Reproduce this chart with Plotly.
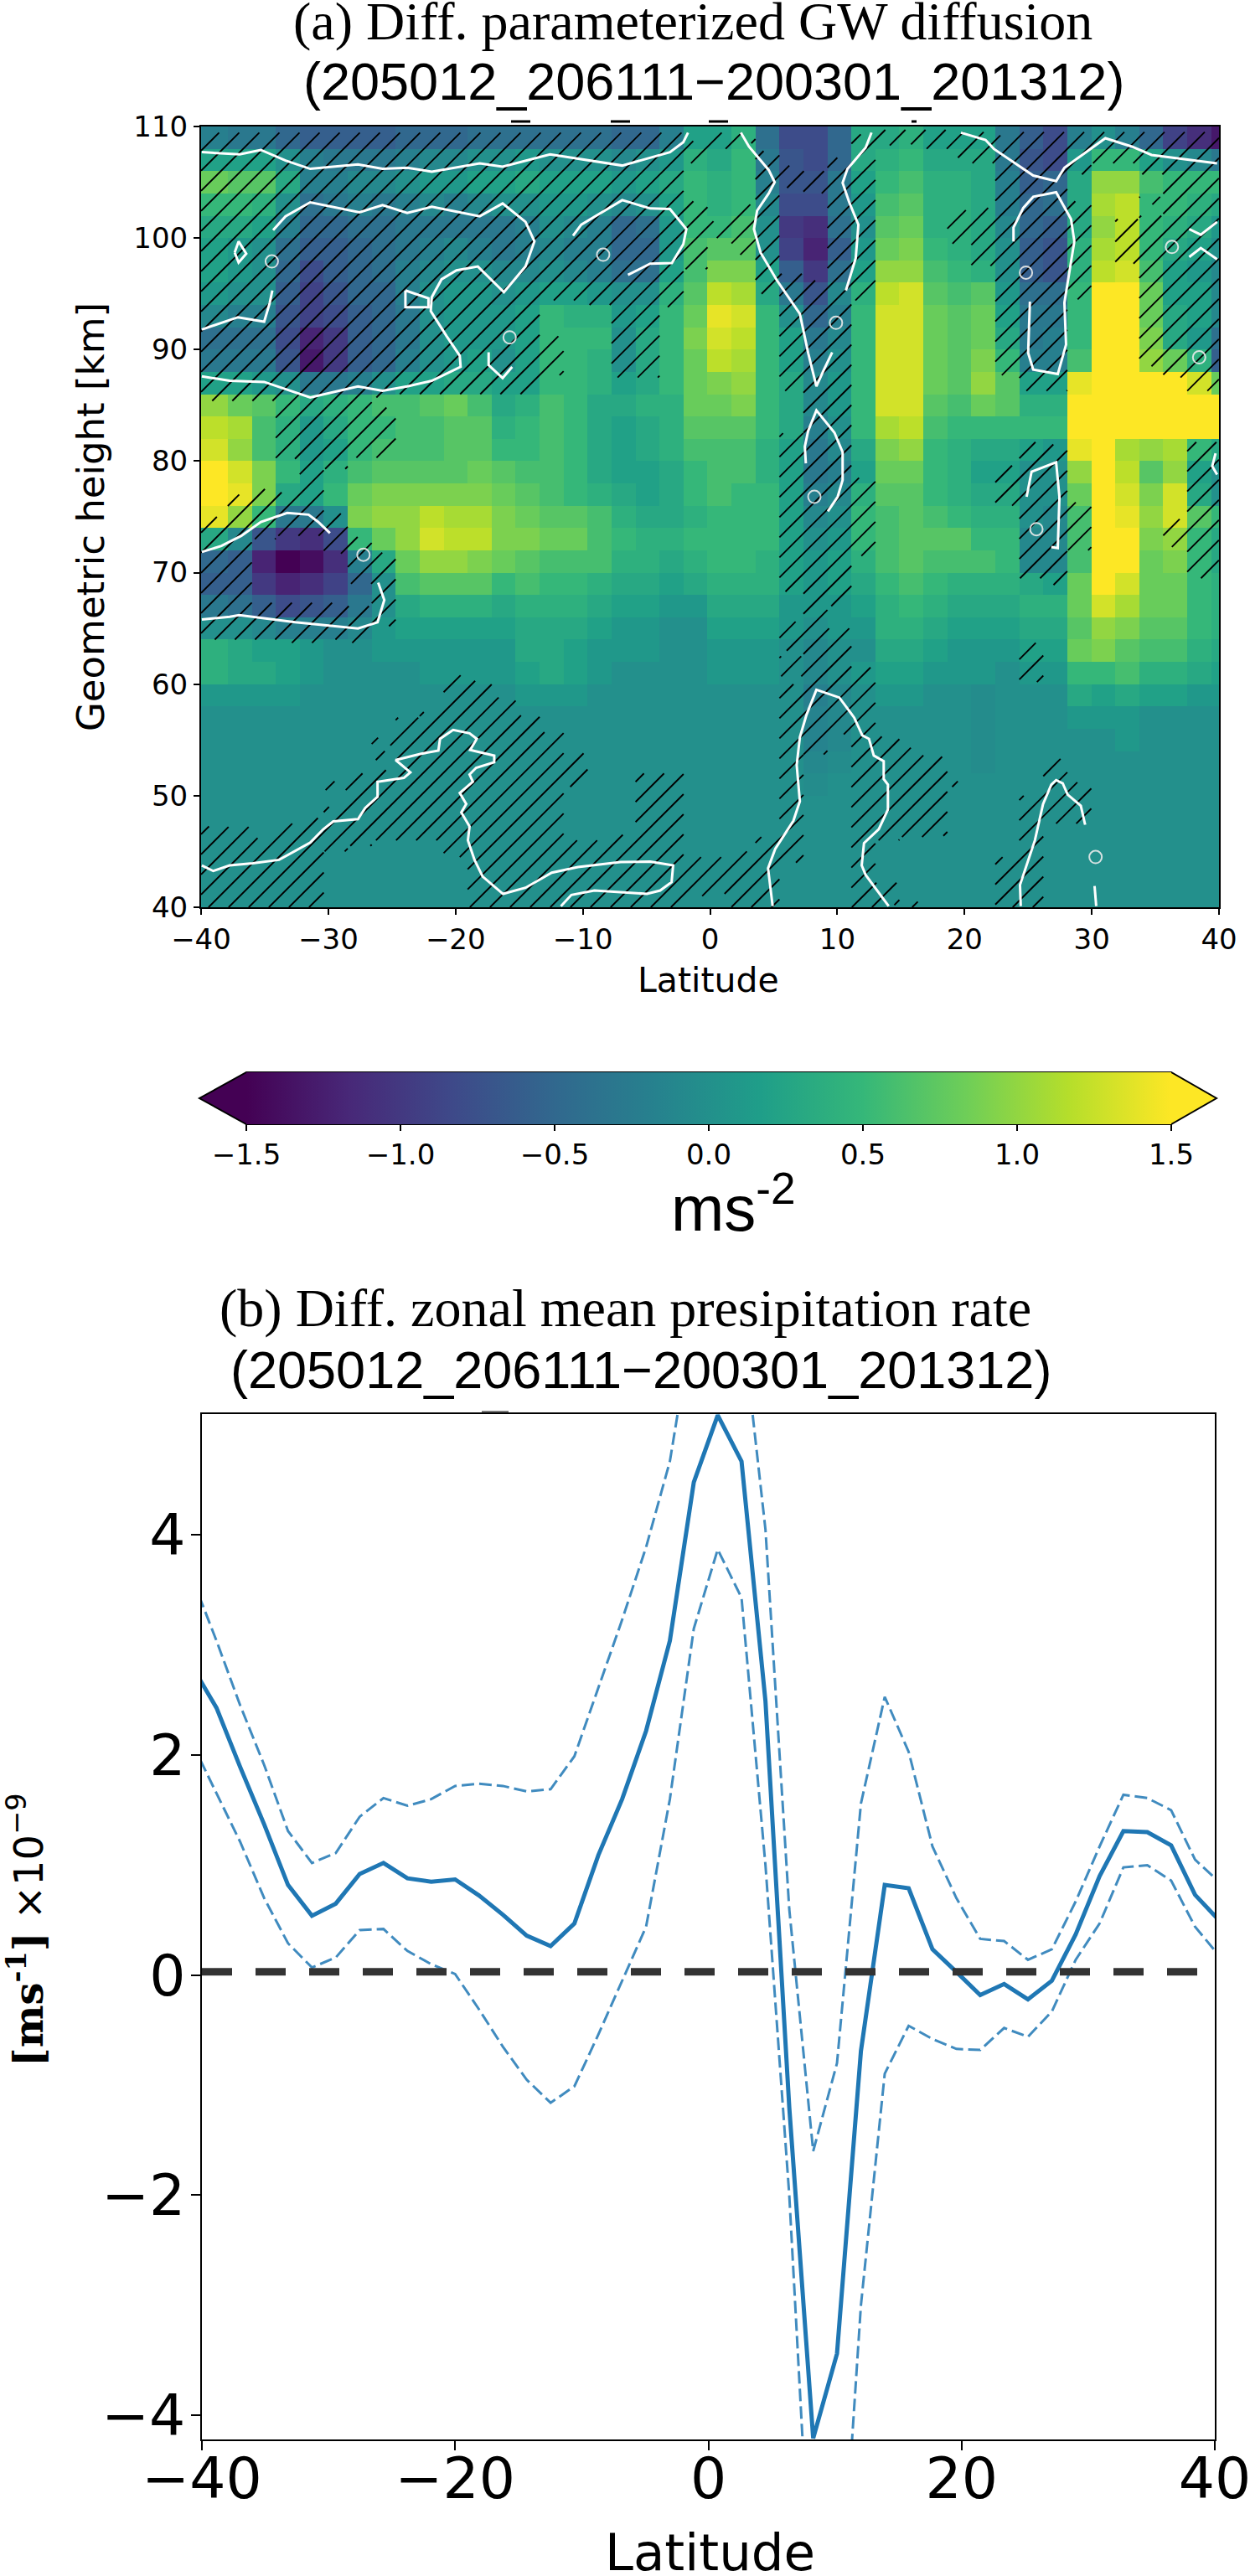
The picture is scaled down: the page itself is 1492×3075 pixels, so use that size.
import plotly.graph_objects as go

W, H = 1492, 3075

# ---------- panel (a): zonal wind tendency, tenths of m s-2 ----------
LAT_EDGES = [-40, -37.9, -36.015, -34.13, -32.245, -30.36, -28.475, -26.59, -24.705, -22.82, -20.935,
             -19.05, -17.165, -15.28, -13.395, -11.51, -9.625, -7.74, -5.855, -3.97, -2.085, -0.2,
             1.685, 3.57, 5.455, 7.34, 9.225, 11.11, 12.995, 14.88, 16.765, 18.65, 20.535, 22.42,
             24.305, 26.19, 28.075, 29.96, 31.845, 33.73, 35.615, 37.5, 39.385, 40]
HEIGHT_EDGES = list(range(40, 112, 2))

# each column: rows centred at 59, 61, ... 109 km
Z_UPPER = [
    [1,4,4,0,-3,-6,-5,3,14,16,16,13,12,10,2,-3,-4,-1,1,2,2,3,5,8,2,-2],
    [1,3,3,0,-4,-6,-6,-1,10,14,13,10,11,8,2,-3,-4,-2,0,1,1,3,5,7,2,-3],
    [1,3,2,-1,-6,-10,-12,-7,5,9,9,6,6,7,1,-3,-4,-2,0,0,0,2,4,7,2,-3],
    [1,2,2,-2,-8,-12,-15,-10,-3,3,5,4,4,5,0,-7,-8,-7,-6,-5,-4,-2,0,3,0,-5],
    [0,1,1,-2,-7,-11,-14,-11,-3,2,2,1,1,3,-3,-13,-12,-9,-9,-8,-6,-5,-4,-2,-2,-6],
    [0,0,0,-2,-6,-9,-11,-8,0,5,4,2,3,4,-3,-10,-10,-8,-7,-6,-6,-5,-3,-2,-3,-6],
    [0,0,0,-1,-3,-5,-2,5,9,8,6,5,5,5,-2,-6,-6,-6,-5,-5,-5,-4,-2,-1,-3,-6],
    [0,0,1,1,0,0,3,8,10,9,7,6,5,6,0,-5,-5,-5,-5,-4,-4,-4,-3,-1,-3,-6],
    [0,0,1,2,3,6,8,10,10,9,7,6,6,6,2,-2,-3,-3,-2,-2,-3,-3,-2,0,-2,-5],
    [0,1,1,2,4,7,10,13,12,9,7,6,6,7,2,0,0,0,0,-1,-2,-3,-1,1,-1,-5],
    [0,1,1,2,4,7,10,12,11,9,7,7,7,8,3,1,1,1,1,0,-1,-3,-2,1,-1,-5],
    [0,1,1,2,4,7,9,12,11,9,8,7,7,6,3,2,1,1,1,0,-2,-3,-1,2,0,-4],
    [0,1,1,2,3,5,8,9,9,8,7,5,4,3,2,0,1,1,0,-1,-3,-3,0,2,0,-4],
    [1,2,3,3,4,6,7,9,8,7,6,5,5,4,2,2,2,2,1,-1,-2,-2,0,3,1,-4],
    [1,3,3,3,4,5,6,8,7,6,6,6,6,6,5,5,5,5,2,0,-1,0,1,2,0,-4],
    [1,2,2,3,4,5,6,8,7,5,5,5,5,5,5,5,5,4,2,-1,-2,-1,1,2,0,-4],
    [0,1,1,2,3,4,6,6,6,4,3,3,3,3,4,4,5,4,1,-2,-2,-2,0,2,0,-4],
    [0,0,1,1,2,3,4,5,4,3,2,2,2,3,2,0,0,1,0,-4,-5,-5,-1,1,-1,-5],
    [0,0,1,1,2,3,4,4,3,2,2,3,3,4,3,3,3,2,0,-4,-5,-4,0,2,0,-5],
    [0,0,0,0,1,2,3,4,3,3,3,4,4,4,5,5,5,5,4,2,1,1,2,3,1,-2],
    [0,0,0,0,1,3,4,5,4,5,5,6,7,8,8,8,9,8,7,6,6,5,5,5,4,2],
    [0,1,1,2,3,4,5,5,5,6,6,6,7,8,9,12,13,14,12,9,7,5,4,4,3,2],
    [0,1,1,2,3,4,5,5,5,5,6,6,7,9,10,11,12,13,11,9,7,6,5,5,5,4],
    [0,1,1,2,3,4,4,5,5,5,4,4,5,5,5,5,5,5,3,2,0,0,-1,-2,-3,-4],
    [0,0,0,1,1,2,2,2,2,2,2,2,3,3,3,2,2,0,-3,-6,-9,-10,-8,-7,-7,-8],
    [-2,-1,-1,0,1,1,1,0,-1,-2,-3,-3,-2,-1,-1,-2,-3,-5,-7,-10,-12,-11,-8,-7,-8,-8],
    [-1,0,0,1,1,2,2,1,0,-1,-2,-1,0,1,1,0,-1,-2,-1,-4,-6,-4,-3,-3,-5,-5],
    [0,1,0,1,2,3,4,5,5,4,2,3,5,5,5,5,5,5,4,2,1,0,1,2,3,3],
    [1,2,3,4,4,5,6,6,6,7,8,9,11,13,13,13,13,13,12,10,8,7,6,5,4,3],
    [1,2,3,4,5,6,7,7,7,7,8,10,12,13,13,13,13,13,13,10,9,8,7,6,5,4],
    [0,1,2,3,4,5,6,7,6,5,5,5,6,7,8,8,8,8,7,6,5,4,4,4,3,2],
    [0,1,1,2,3,4,6,7,5,4,4,4,5,6,7,7,7,7,6,5,4,4,4,4,3,2],
    [-0.5,1,1,2,3,4,6,5,4,3,2,3,5,8,10,9,8,8,7,4,3,3,3,3,3,2],
    [0,0,1,2,3,4,5,5,4,3,2,3,5,7,7,5,3,2,1,0,0,-1,-2,-2,-3,-3],
    [0,1,2,3,4,3,-1,-1,0,0,0,2,5,4,2,-2,-3,-3,-4,-6,-6,-5,-5,-6,-7,-6],
    [0,1,2,3,4,2,-1,-1,-1,0,0,1,5,4,2,-2,-2,-3,-4,-7,-7,-6,-4,-5,-8,-8],
    [3,5,8,7,8,8,6,6,6,8,10,14,15,15,14,6,5,5,5,4,4,3,3,3,1,-2],
    [2,5,9,10,13,15,15,15,15,15,15,15,15,15,15,15,15,15,15,12,11,10,11,10,5,0],
    [3,6,7,9,11,13,15,15,14,13,12,11,15,15,15,15,15,15,15,13,12,12,12,10,5,-2],
    [2,4,6,7,8,8,8,9,10,9,7,10,15,15,15,10,9,8,8,6,5,5,5,6,2,-5],
    [2,4,6,7,8,8,9,10,13,13,10,11,15,15,15,8,3,3,2,2,3,4,5,5,0,-9],
    [1,3,4,5,5,5,5,5,7,3,2,5,15,15,13,4,1,2,2,1,2,3,4,5,-1,-11],
    [1,2,3,4,4,4,3,3,5,0,0,3,15,15,8,-6,-4,-1,-1,-1,0,1,3,5,-3,-13],
]
# rows centred at 41 ... 57 km; columns not listed are 0
Z_LOWER = {
    25: [0,0,0,0,0,-0.5,-1,-1.5,-1.5],
    26: [0,0,0,0,0,0,-0.5,-1,-1],
    32: [0,0,0,0,0,0,-0.5,-0.5,-0.5],
    36: [0,0,0,0,0,0,0,0,1],
    37: [0,0,0,0,0,0,0,0,1],
    38: [0,0,0,0,0,0,0,1,1],
}
T = 109.45
# significance mask: hatched height intervals of each column
HATCH = [
    [(40,47.25),(64,75),(85.4,T)],
    [(40,47.2),(64,77),(85.4,T)],
    [(40,46.2),(64,67.3),(73,77.5),(85.4,T)],
    [(40,47.5),(63.7,67.3),(73.3,77.2),(80.2,T)],
    [(40,48),(63.7,67.3),(73.3,T)],
    [(45,49),(50.5,51.3),(64,67.3),(71.7,75.3),(79.3,T)],
    [(45.5,52),(63.7,67),(69,73.2),(80.3,T)],
    [(46,52.3),(53.2,54),(54.5,55.2),(65.2,71.8),(80.3,84.8),(85.7,T)],
    [(46,57),(86,T)],
    [(46,57.5),(86,T)],
    [(44.5,60.8),(86,T)],
    [(40,60.3),(86,T)],
    [(40,58.8),(86,T)],
    [(40,57.2),(86,T)],
    [(40,55.7),(87.7,91.2),(94.4,T)],
    [(40,46),(50.8,53.8),(94.4,T)],
    [(40,46),(94,T)],
    [(40,46.5),(87.5,T)],
    [(40,52),(87.5,T)],
    [(40,52),(93.8,T)],
    [(41,44.5),(97.2,103.3),(106.7,108.7)],
    [(41.2,44.5),(100,101.5),(108,T)],
    [(40,45),(98.5,103),(108.5,T)],
    [(40,46.3),(95,107.8)],
    [(44,60),(60.7,62.5),(63,65.6),(68.3,82.5),(86.3,96.8),(104.5,106.5)],
    [(53.7,96.2),(104,106)],
    [(55.5,65),(67,107.2)],
    [(40,61.5),(71.5,78.5),(94.4,109.3)],
    [(40.2,42.2),(46,55.3),(108.3,109.7)],
    [(40,40.5),(46.3,54.3),(108.4,109.7)],
    [(46.4,53.5),(108,109.7)],
    [(50.8,51.3),(99.5,102.5),(107.2,109.5)],
    [(97.5,102.7),(106.7,109.5)],
    [(40,44.5),(76,79.6),(87.7,109.2)],
    [(40,50),(60.2,63.7),(69.5,81.7),(86.3,109.5)],
    [(47.5,53.3),(68.9,81.5),(86.3,109.5)],
    [(47.5,51.2),(72,76.3),(94.5,103.3),(105.7,109.5)],
    [(106.7,109.5)],
    [(97.7,101.7),(106.7,109.5)],
    [(88.5,102),(103,103.7),(105.7,109.5)],
    [(72.3,74.8),(87.5,109.5)],
    [(69.5,81.7),(86.3,109.5)],
    [(69.5,81.7),(86.3,109.5)],
]

# white contours: (lat list, height list)
CONTOURS = [
    ([-39.94,-36.97,-35.3,-33.36,-31.42,-27.67,-25.74,-23.8,-21.87,-18.1,-16.3,-12.57,-6.9,-3.15,-2.1,-1.73],
     [107.7,107.5,107.9,106.95,106.2,106.6,106.2,106.3,105.95,106.7,106.4,107.5,106.5,107.7,108.6,109.45]),
    ([-34.34,-33.36,-31.42,-27.55,-25.74,-23.8,-21.87,-18.1,-16.3,-14.5,-13.8,-14.5,-16.2,-18.25,-19.93,-21.1,-21.87,-21.95,-20.7,-19.67,-19.6,-21.87,-23.8,-25.74,-27.67,-31.42,-35.04,-37.75,-39.94],
     [100.7,101.95,103.2,102.3,102.95,102.25,102.8,101.95,103.1,101.45,99.7,97.45,95.15,97.45,97.1,96.3,94.7,93.45,91.2,89.45,88.45,87.2,86.7,86.3,86.7,85.7,87.1,87.2,87.6]),
    ([-39.94,-37.1,-35.04,-34.6,-34.4], [91.8,92.9,92.5,94.2,95.3]),
    ([-37.36,-37.05,-36.45,-37.05,-37.36], [98.7,99.7,98.6,97.8,98.7]),
    ([-23.94,-22.13,-22.13,-23.94,-23.94], [95.3,94.6,93.8,93.8,95.3]),
    ([-17.4,-17.4,-16.3,-15.55], [89.75,88.6,87.45,88.45]),
    ([-10.77,-10.12,-6.9,-4.7,-3.15,-1.86,-2.1,-3.0,-4.7,-6.45], [100.2,101.2,103.4,102.65,102.6,100.8,99.45,97.75,97.7,96.7]),
    ([2.42,3.06,4.61,5.08,4.61,3.7,3.45,3.97,5.26,7.06,7.71,8.36,8.87,9.6],
     [109.45,108.2,106.1,105,104,102.45,100.8,98.7,96.2,93.2,89.7,86.7,88,89.75]),
    ([12.69,12.23,10.8,10.42,10.94,11.66,11.45,10.68], [109.45,108.1,106.2,104.95,103.2,101.2,98.2,95.3]),
    ([7.53,7.45,7.71,8.36,9.78,10.42,10.42,10.03,9.26], [79.8,81.3,82.7,84.55,82.55,80.8,78.3,76.8,75.5]),
    ([19.72,21.65,22.3,25.4,27.2,27.85,31.07,33.15,34.7,37.0,39.85], [109.45,108.8,108,105.6,105.1,106.3,108.95,108.2,107.45,107.1,106.7]),
    ([23.85,23.85,24.62,25.4,27.2,28.37,28.63,28.24,27.85,27.98,27.33,25.4,25.0,25.14],
     [99.7,100.95,102.7,103.7,104.1,101.7,99.7,97,94.2,90.45,87.8,88.2,89.7,94.3]),
    ([37.66,38.57,39.85], [100.8,100.3,101.45]),
    ([37.66,38.57,39.85], [98.3,99.1,98.1]),
    ([24.88,25.27,27.2,27.46,27.33,26.82], [76.8,79.05,79.9,76.8,72.2,72.3]),
    ([39.73,39.47,39.85], [80.7,79.55,78.8]),
    ([-39.94,-38.4,-36.84,-35.3,-33.23,-31.55,-30.8,-29.87], [71.85,72.4,73.3,74.55,75.35,75.2,74.55,73.55]),
    ([-26.08,-25.6,-26.13,-27.67,-32.6,-37,-37.75,-39.94], [69.1,67.55,65.55,65,65.55,66.2,66.05,65.8]),
    ([-39.94,-39.04,-37.75,-35.94,-33.87,-32.58,-31.42,-30.39,-29.61,-27.67,-27.1,-26.13,-26.13,-24.06,-23.55,-24.71,-22.77,-21.35,-21.22,-20.19,-18.9,-18.33,-18.85,-16.96,-16.96,-18.38,-18.9,-18.64,-19.67,-19.16,-19.55,-18.9,-19.03,-18.51,-17.87,-16.27,-14.5,-12.44,-10.38,-7.02,-4.7,-2.9,-3.02,-3.92,-4.96,-9.09,-10.9,-11.72],
     [43.75,43.25,43.75,43.95,44.25,45.1,45.8,47,47.7,47.9,48.9,49.9,51.25,51.6,52.1,53.2,53.75,54.05,55.1,55.9,55.6,55.1,54.1,53.6,53,52.5,51.9,51.25,50.25,49.25,48.5,47.25,46,44.25,42.75,41.2,41.75,43.1,43.6,44.05,44.1,43.75,42.25,41.5,41.2,41.5,41.1,40.1]),
    ([4.92,4.56,5.13,6.55,7.06,6.81,7.06,7.58,8.36,10.16,11.33,11.97,12.49,12.87,13.65,13.65,13.98,13.98,13.26,12.1,11.92,12.23,14.04],
     [40.1,43.5,45.25,47.75,49.5,52.75,55.25,57.25,59.5,58.8,57,55.4,55.1,53.6,53.1,51.5,51,48.75,47,45.75,43.75,42.9,40.1]),
    ([24.42,24.36,25.53,26.17,26.82,27.2,27.72,28.11,29.14,29.48], [40.1,42,46,49.25,51,51.4,51.1,50.1,49.1,47.4]),
    ([30.22,30.35], [41.9,40.1]),
]
RING_LAT = [-34.44,-15.75,-8.4,-27.24,9.9,24.83,36.3,38.44,8.2,25.65,30.3]
RING_H = [97.9,91.1,98.5,71.6,92.4,96.9,99.2,89.3,76.8,73.9,44.5]

CB_TICKS = [-1.5,-1.0,-0.5,0.0,0.5,1.0,1.5]

# ---------- panel (b): precipitation difference ----------
PR_LAT = [-40.74,-38.85,-36.97,-35.08,-33.2,-31.31,-29.43,-27.54,-25.66,-23.77,-21.89,-20.0,-18.12,-16.23,-14.35,-12.46,-10.58,-8.69,-6.81,-4.92,-3.04,-1.15,
          0.74,2.62,4.51,6.39,8.28,10.16,12.05,13.93,15.82,17.7,19.59,21.47,23.36,25.24,27.13,29.01,30.9,32.78,34.67,36.55,38.44,40.32]
PR_MEAN = [2.8,2.43,1.89,1.37,0.82,0.54,0.65,0.92,1.02,0.88,0.85,0.87,0.725,0.55,0.36,0.265,0.47,1.09,1.6,2.22,3.04,4.48,
           5.09,4.67,2.49,-1.2,-4.21,-3.44,-0.69,0.82,0.79,0.235,0.03,-0.18,-0.08,-0.22,-0.05,0.37,0.9,1.31,1.3,1.18,0.73,0.5]
PR_UPPER = [3.6,3.04,2.45,1.91,1.31,1.02,1.11,1.44,1.61,1.54,1.6,1.72,1.74,1.72,1.67,1.69,1.99,2.61,3.23,3.89,4.67,6.0,
            6.5,6.0,4.05,0.6,-1.6,-0.8,1.56,2.53,2.03,1.17,0.7,0.33,0.31,0.14,0.235,0.67,1.17,1.64,1.61,1.5,1.05,0.85]
PR_LOWER = [2.1,1.65,1.21,0.7,0.29,0.07,0.16,0.41,0.42,0.22,0.1,0.01,-0.31,-0.65,-0.95,-1.16,-1.01,-0.54,-0.05,0.44,1.6,3.15,
            3.87,3.43,1.0,-2.0,-6.0,-6.3,-3.0,-0.895,-0.46,-0.58,-0.67,-0.68,-0.48,-0.56,-0.33,0.14,0.47,0.98,1.0,0.86,0.44,0.18]
ZERO_LAT = [-40, 40]
ZERO_VAL = [0.03, 0.03]


def fx(px):
    return px / W


def fy(py):
    return 1 - py / H


# assemble heatmap rows, bottom to top
columns = [Z_LOWER.get(i, [0] * 9) + col for i, col in enumerate(Z_UPPER)]
z_rows = [[columns[c][r] / 10 for c in range(len(columns))] for r in range(35)]

# hatch lines: 45 degree in pixels, clipped to the mask intervals
SLOPE = 1.141
hatch_x, hatch_y = [], []
for k in range(-42, 52):
    c = -72.89 + 1.58 * k
    segs = []
    for col, intervals in enumerate(HATCH):
        a, b = LAT_EDGES[col], LAT_EDGES[col + 1]
        for h0, h1 in intervals:
            lo = max(a, c + h0 / SLOPE)
            hi = min(b, c + h1 / SLOPE)
            if hi > lo:
                segs.append((lo, hi))
    segs.sort()
    merged = []
    for s in segs:
        if merged and s[0] - merged[-1][1] < 1e-6:
            merged[-1] = (merged[-1][0], s[1])
        else:
            merged.append(s)
    for lo, hi in merged:
        hatch_x += [lo, hi, None]
        hatch_y += [SLOPE * (lo - c), SLOPE * (hi - c), None]

fig = go.Figure()
fig.add_trace(go.Heatmap(x=LAT_EDGES, y=HEIGHT_EDGES, z=z_rows, coloraxis="coloraxis",
                         xaxis="x", yaxis="y", hoverinfo="skip"))
fig.add_trace(go.Scatter(x=hatch_x, y=hatch_y, mode="lines", line=dict(color="black", width=1.9),
                         xaxis="x", yaxis="y", hoverinfo="skip"))
for lats, hs in CONTOURS:
    fig.add_trace(go.Scatter(x=lats, y=hs, mode="lines", line=dict(color="white", width=3),
                             xaxis="x", yaxis="y", hoverinfo="skip"))
fig.add_trace(go.Scatter(x=RING_LAT, y=RING_H, mode="markers",
                         marker=dict(symbol="circle-open", size=15, color="rgba(235,235,235,0.9)", line=dict(width=2)),
                         xaxis="x", yaxis="y", hoverinfo="skip"))

fig.add_trace(go.Scatter(x=PR_LAT, y=PR_UPPER, mode="lines",
                         line=dict(color="rgba(31,119,180,0.85)", width=3, dash="15px,6px"), xaxis="x2", yaxis="y2"))
fig.add_trace(go.Scatter(x=PR_LAT, y=PR_LOWER, mode="lines",
                         line=dict(color="rgba(31,119,180,0.85)", width=3, dash="15px,6px"), xaxis="x2", yaxis="y2"))
fig.add_trace(go.Scatter(x=PR_LAT, y=PR_MEAN, mode="lines", line=dict(color="#1f77b4", width=5), xaxis="x2", yaxis="y2"))
fig.add_trace(go.Scatter(x=ZERO_LAT, y=ZERO_VAL, mode="lines",
                         line=dict(color="#333333", width=9, dash="36px,28px"), xaxis="x2", yaxis="y2"))

AX_A = dict(showline=True, mirror=True, linecolor="black", linewidth=2, ticks="outside", ticklen=7, tickwidth=2,
            tickcolor="black", showgrid=False, zeroline=False, tickfont=dict(family="DejaVu Sans", size=34, color="black"))
AX_B = dict(AX_A, ticklen=11, tickfont=dict(family="DejaVu Sans", size=68, color="black"), ticklabeloverflow="allow")

fig.update_layout(
    width=W, height=H, margin=dict(l=0, r=0, t=0, b=0, autoexpand=False), showlegend=False,
    paper_bgcolor="white", plot_bgcolor="white",
    xaxis=dict(AX_A, domain=[fx(240), fx(1455)], range=[-40, 40], tickvals=list(range(-40, 50, 10)), anchor="y"),
    yaxis=dict(AX_A, domain=[fy(1083), fy(151)], range=[40, 110], tickvals=list(range(40, 120, 10)), anchor="x"),
    xaxis2=dict(AX_B, domain=[fx(241), fx(1450)], range=[-40, 40], tickvals=[-40, -20, 0, 20, 40], anchor="y2",
                ticklabelstandoff=-25),
    yaxis2=dict(AX_B, domain=[fy(2912), fy(1688)], range=[-4.22, 5.10], tickvals=[-4, -2, 0, 2, 4], anchor="x2",
                ticklabelstandoff=-7),
    coloraxis=dict(
        colorscale="Viridis", cmin=-1.5, cmax=1.5,
        colorbar=dict(orientation="h", lenmode="pixels", len=1104, thicknessmode="pixels", thickness=62,
                      x=fx(294), xanchor="left", y=fy(1280), yanchor="top", xpad=0, ypad=0,
                      tickvals=CB_TICKS, tickformat=".1f", ticks="outside", ticklen=8, tickwidth=2, tickcolor="black",
                      outlinewidth=0,
                      tickfont=dict(family="DejaVu Sans", size=34, color="black")),
    ),
)


def label(text, x, y, family, size, angle=0):
    fig.add_annotation(text=text, xref="paper", yref="paper", x=fx(x), y=fy(y), xanchor="center", yanchor="middle",
                       showarrow=False, textangle=angle, font=dict(family=family, size=size, color="black"))


label("(a) Diff. parameterized GW diffusion", 827, 26, "Liberation Serif", 64)
label("(205012_206111\u2212200301_201312)", 852, 97, "Liberation Sans", 63)
label("Geometric height [km]", 108, 617, "DejaVu Sans", 45, -90)
label("Latitude", 845, 1170, "DejaVu Sans", 41)
label("ms<sup>-2</sup>", 876, 1437, "Liberation Sans", 76)
label("(b) Diff. zonal mean presipitation rate", 747, 1561, "Liberation Serif", 64)
label("(205012_206111\u2212200301_201312)", 765, 1635, "Liberation Sans", 63)
label("<span style='font-family:DejaVu Serif;font-weight:bold'>[ms<sup>-1</sup>]</span> \u00d710<sup>\u22129</sup>",
      30, 2304, "DejaVu Sans", 48, -90)
label("Latitude", 847, 3046, "DejaVu Sans", 61)

# extend triangles of the colour bar, its outline, and the small dashes left under the titles
fig.add_shape(type="path", xref="paper", yref="paper",
              path=f"M {fx(294)} {fy(1280)} L {fx(238)} {fy(1311)} L {fx(294)} {fy(1342)} Z",
              fillcolor="#440154", line=dict(width=0))
fig.add_shape(type="path", xref="paper", yref="paper",
              path=f"M {fx(1398)} {fy(1280)} L {fx(1452)} {fy(1311)} L {fx(1398)} {fy(1342)} Z",
              fillcolor="#fde725", line=dict(width=0))
fig.add_shape(type="path", xref="paper", yref="paper",
              path=(f"M {fx(294)} {fy(1280)} L {fx(1398)} {fy(1280)} L {fx(1452)} {fy(1311)} L {fx(1398)} {fy(1342)} "
                    f"L {fx(294)} {fy(1342)} L {fx(238)} {fy(1311)} Z"),
              line=dict(color="black", width=2))
for x0, x1 in [(610, 633), (729, 752), (846, 869), (1088, 1094)]:
    fig.add_shape(type="line", xref="paper", yref="paper", x0=fx(x0), x1=fx(x1), y0=fy(145), y1=fy(145),
                  line=dict(color="black", width=3))
fig.add_shape(type="line", xref="paper", yref="paper", x0=fx(575), x1=fx(607), y0=fy(1685), y1=fy(1685),
              line=dict(color="#777777", width=2))

fig.write_html("out.html", config={"displayModeBar": False},
               post_script="document.body.style.margin='0';document.documentElement.style.margin='0';")
